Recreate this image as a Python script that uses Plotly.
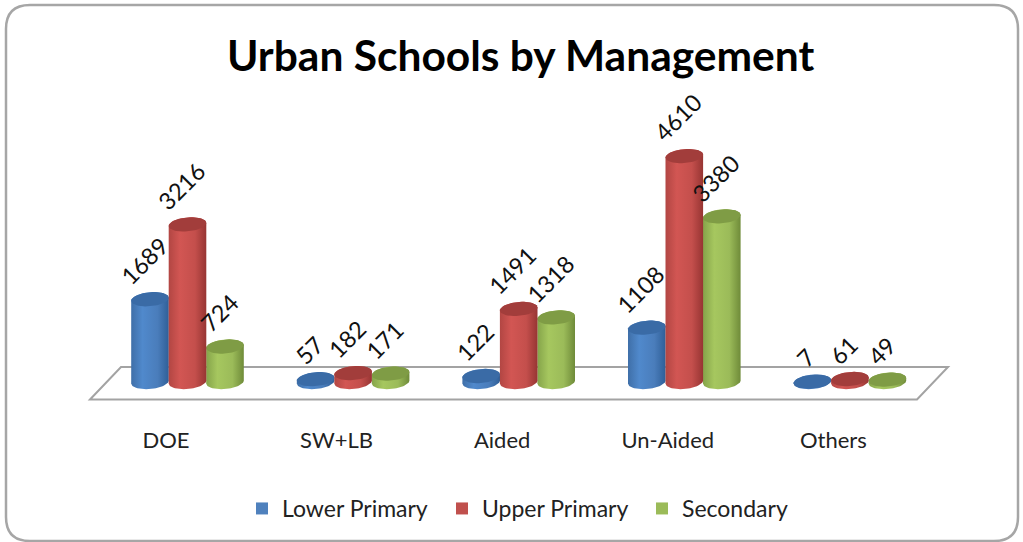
import math
import plotly.graph_objects as go

categories = ["DOE", "SW+LB", "Aided", "Un-Aided", "Others"]
lower_primary = [1689, 57, 122, 1108, 7]
upper_primary = [3216, 182, 1491, 4610, 61]
secondary = [724, 171, 1318, 3380, 49]
series_names = ["Lower Primary", "Upper Primary", "Secondary"]
series_values = [lower_primary, upper_primary, secondary]

W, H = 1023, 542
PLOT_BOTTOM = 425
BASE_PX = 382
UNIT_PX = 165.6
RED0_PX = 187.5
VAL_PX = 0.049
STEP = 37.5 / UNIT_PX
HALF_W = 18.8 / UNIT_PX
HALF_H = 7.0 / VAL_PX
TILT = 1.5 / VAL_PX

x_min = -RED0_PX / UNIT_PX
x_max = (W - RED0_PX) / UNIT_PX
y_max = BASE_PX / VAL_PX
y_min = -(PLOT_BOTTOM - BASE_PX) / VAL_PX

styles = [
    dict(base="#4F81BD", cap="#3A6BA6", grad=[[0, "#3F6FA8"], [0.3, "#5089CC"], [0.7, "#4A7DBB"], [1, "#2F5F98"]]),
    dict(base="#C0504D", cap="#A23D3B", grad=[[0, "#B24643"], [0.3, "#D25653"], [0.7, "#C44F4C"], [1, "#973533"]]),
    dict(base="#9BBB59", cap="#7F9C45", grad=[[0, "#85A44A"], [0.3, "#A6C75F"], [0.7, "#9BBB59"], [1, "#6F8B39"]]),
]


def px_x(p):
    return p / W


def px_y(p):
    return 1 - p / PLOT_BOTTOM


def ellipse(cx, cy, t0, t1, n=30):
    xs, ys = [], []
    for k in range(n + 1):
        t = t0 + (t1 - t0) * k / n
        xs.append(cx + HALF_W * math.cos(t))
        ys.append(cy + HALF_H * math.sin(t) + TILT * math.cos(t))
    return xs, ys


fig = go.Figure()

# Legend-carrying bars, later covered by the shaded cylinders
for s, (name, vals) in enumerate(zip(series_names, series_values)):
    fig.add_trace(go.Bar(
        x=[i + (s - 1) * STEP for i in range(len(categories))],
        y=vals, name=name, width=0.19,
        marker=dict(color=styles[s]["base"], line=dict(width=0)),
    ))

# Cylinders: draw blue, green, then red so red sits in front
for s in (0, 2, 1):
    for i, v in enumerate(series_values[s]):
        cx = i + (s - 1) * STEP
        bx, by = ellipse(cx, 0, math.pi, 2 * math.pi)
        tx, ty = ellipse(cx, v, 0, math.pi)
        fig.add_trace(go.Scatter(
            x=bx + tx, y=by + ty, mode="lines", fill="toself",
            line=dict(width=0), showlegend=False, hoverinfo="skip",
            fillgradient=dict(type="horizontal", colorscale=styles[s]["grad"],
                              start=cx - HALF_W, stop=cx + HALF_W),
        ))
        cxs, cys = ellipse(cx, v, 0, 2 * math.pi, 48)
        fig.add_trace(go.Scatter(
            x=cxs, y=cys, mode="lines", fill="toself", fillcolor=styles[s]["cap"],
            line=dict(width=0), showlegend=False, hoverinfo="skip",
        ))

annotations = []
for s, vals in enumerate(series_values):
    for i, v in enumerate(vals):
        annotations.append(dict(
            x=i + (s - 1) * STEP, y=v, xref="x", yref="y", text=str(v),
            showarrow=False, textangle=-45, xanchor="center", yanchor="bottom",
            xshift=-6, yshift=6.5, font=dict(family="Lato", size=23.5, color="#111111"),
        ))

annotations.append(dict(
    x=520 / W, y=px_y(54), xref="paper", yref="paper", text="<b>Urban Schools by Management</b>",
    showarrow=False, xanchor="center", yanchor="middle",
    font=dict(family="Lato", size=42.5, color="#000000"),
))

# Rounded chart frame and chart floor (decoration only)
L, R, T, B, r = 6, 1018, 5, 541, 24
frame = (
    f"M {px_x(L + r)} {px_y(T)} L {px_x(R - r)} {px_y(T)} "
    f"Q {px_x(R)} {px_y(T)} {px_x(R)} {px_y(T + r)} L {px_x(R)} {px_y(B - r)} "
    f"Q {px_x(R)} {px_y(B)} {px_x(R - r)} {px_y(B)} L {px_x(L + r)} {px_y(B)} "
    f"Q {px_x(L)} {px_y(B)} {px_x(L)} {px_y(B - r)} L {px_x(L)} {px_y(T + r)} "
    f"Q {px_x(L)} {px_y(T)} {px_x(L + r)} {px_y(T)} Z"
)
floor = (
    f"M {px_x(90)} {px_y(399.5)} L {px_x(121)} {px_y(367)} "
    f"L {px_x(948)} {px_y(367)} L {px_x(917)} {px_y(399.5)} Z"
)
shapes = [
    dict(type="path", path=frame, xref="paper", yref="paper", layer="below",
         line=dict(color="#A6A6A6", width=2.5), fillcolor="#FFFFFF"),
    dict(type="path", path=floor, xref="paper", yref="paper", layer="below",
         line=dict(color="#A3A3A3", width=2), fillcolor="#FFFFFF"),
]

tick_offsets = [-0.13, -0.10, -0.10, -0.10, -0.10]

fig.update_layout(
    width=W, height=H, autosize=False,
    margin=dict(l=0, r=0, t=0, b=H - PLOT_BOTTOM, pad=0),
    paper_bgcolor="#FFFFFF", plot_bgcolor="rgba(0,0,0,0)",
    barmode="overlay", showlegend=True,
    annotations=annotations, shapes=shapes,
    xaxis=dict(range=[x_min, x_max], showgrid=False, zeroline=False, showline=False,
               ticks="", tickmode="array",
               tickvals=[i + o for i, o in zip(range(len(categories)), tick_offsets)], ticktext=categories,
               tickfont=dict(family="Lato", size=22, color="#222222")),
    yaxis=dict(range=[y_min, y_max], visible=False),
    legend=dict(orientation="h", x=242 / W, y=px_y(487), xanchor="left", yanchor="top",
                xref="paper", yref="paper", entrywidth=155, entrywidthmode="pixels",
                bgcolor="rgba(0,0,0,0)", traceorder="normal",
                font=dict(family="Lato", size=23, color="#222222")),
    hovermode=False,
)

fig.write_html("out.html", config={"displayModeBar": False},
               post_script="document.body.style.margin='0';")
